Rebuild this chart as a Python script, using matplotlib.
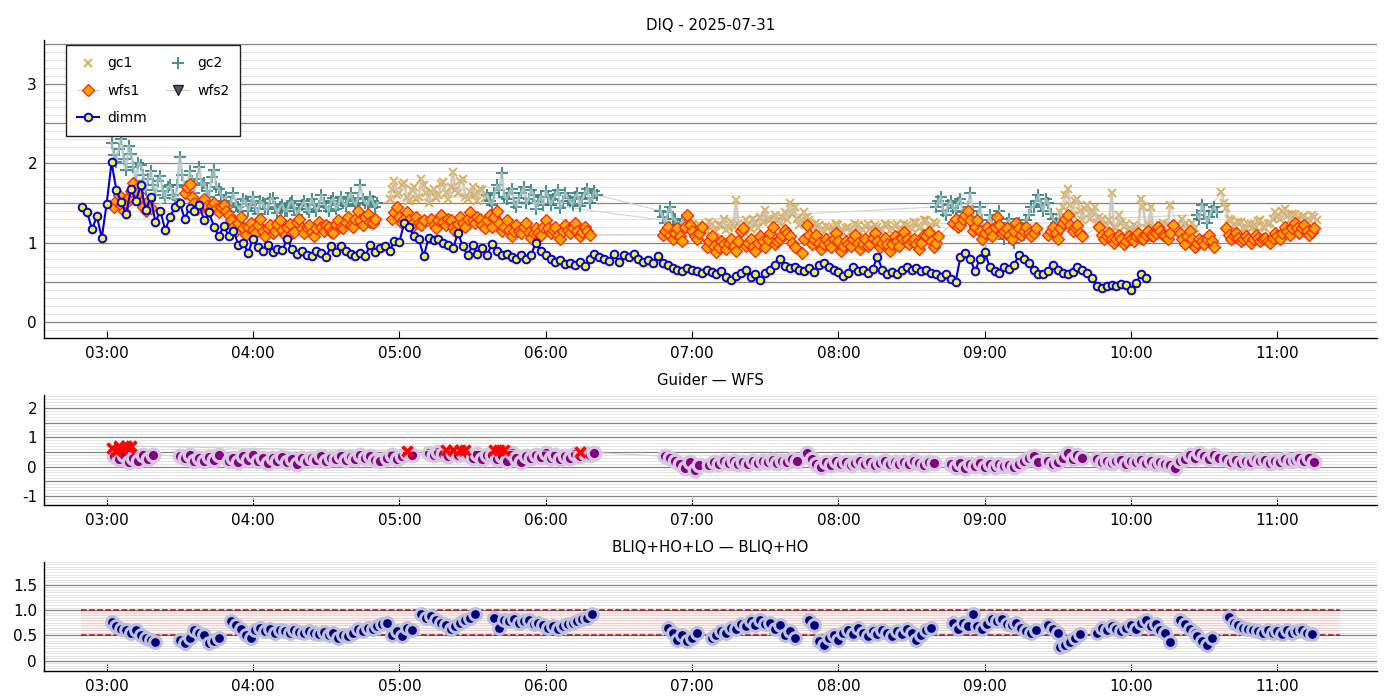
import numpy as np
import matplotlib.pyplot as plt
import matplotlib.dates as mdates
from matplotlib.ticker import FixedLocator, MultipleLocator

# all times are minutes after 00:00 on the night's date
night_date = np.datetime64('2025-07-31T00:00:00')
night_start, night_end = 169.3, 685.7

# DIMM seeing, one value every 2 minutes from 02:50
dimm_start = 170
dimm = [
    1.45, 1.38, 1.17, 1.33, 1.06, 1.49, 2.01, 1.66, 1.51, 1.36,
    1.68, 1.53, 1.72, 1.41, 1.57, 1.26, 1.40, 1.16, 1.32, 1.45,
    1.50, 1.30, 1.44, 1.40, 1.47, 1.28, 1.38, 1.20, 1.08, 1.21, 1.09,
    1.15, 0.97, 1.00, 0.87, 1.05, 0.95, 0.90, 0.97, 0.88, 0.92,
    0.91, 1.04, 0.92, 0.86, 0.89, 0.85, 0.83, 0.90, 0.87, 0.82,
    0.96, 0.88, 0.96, 0.89, 0.86, 0.83, 0.87, 0.83, 0.97, 0.88,
    0.93, 0.96, 0.90, 1.02, 1.01,
    1.25, 1.20, 1.08, 1.04, 0.83, 1.06, 1.03, 1.04, 1.00, 0.97,
    0.93, 1.12, 0.96, 0.84, 0.97, 0.86, 0.93, 0.85, 0.98, 0.90,
    0.84, 0.86, 0.82, 0.80, 0.84, 0.79, 0.85, 1.00, 0.90, 0.84,
    0.80, 0.76, 0.78, 0.73, 0.75, 0.72, 0.76, 0.71, 0.80, 0.86,
    0.82, 0.80, 0.77, 0.86, 0.76, 0.85, 0.82, 0.86, 0.79, 0.76,
    0.78, 0.75, 0.83, 0.74, 0.72, 0.68, 0.66, 0.64, 0.68, 0.66,
    0.65, 0.62, 0.66, 0.63, 0.60, 0.64, 0.57, 0.53, 0.58, 0.62,
    0.66, 0.57, 0.60, 0.53, 0.62, 0.66, 0.72, 0.80, 0.71, 0.68,
    0.70, 0.66, 0.64, 0.68, 0.63, 0.72, 0.75, 0.70, 0.66, 0.63,
    0.58, 0.62, 0.69, 0.64, 0.66, 0.62, 0.67, 0.82, 0.66, 0.61,
    0.63, 0.60, 0.66, 0.70, 0.66, 0.68, 0.64, 0.66, 0.62, 0.60,
    0.57, 0.60, 0.54, 0.50, 0.82, 0.87, 0.80, 0.64, 0.80, 0.88,
    0.70, 0.64, 0.62, 0.70, 0.67, 0.72, 0.85, 0.80, 0.74, 0.66,
    0.61, 0.60, 0.64, 0.72, 0.66, 0.62, 0.60, 0.63, 0.70, 0.66,
    0.62, 0.56, 0.45, 0.43, 0.45, 0.47, 0.46, 0.48, 0.47, 0.40,
    0.49, 0.60, 0.55,
]

# guide cameras and WFS: (start minute, values every minute)
gc1_segments = [
    (296, [1.55, 1.68, 1.78, 1.60, 1.62, 1.72, 1.75, 1.58, 1.52, 1.66, 1.70,
           1.55, 1.58, 1.80, 1.72, 1.62, 1.50, 1.64, 1.68, 1.56, 1.60, 1.74,
           1.76, 1.62, 1.55, 1.70, 1.89, 1.66, 1.62, 1.78, 1.80, 1.58, 1.55,
           1.64, 1.70, 1.60, 1.52, 1.68, 1.66, 1.56, 1.58]),
    (416, [1.25, 1.18, 1.15, 1.28, 1.22, 1.14, 1.12, 1.24, 1.20, 1.16,
           1.15, 1.26, 1.24, 1.13, 1.14, 1.22, 1.22, 1.30, 1.16, 1.19,
           1.26, 1.20, 1.54, 1.24, 1.20, 1.15, 1.28, 1.22, 1.17, 1.30,
           1.25, 1.18, 1.32, 1.26, 1.41, 1.30, 1.28, 1.22, 1.35, 1.27,
           1.25, 1.32, 1.38, 1.28, 1.50, 1.36, 1.45, 1.30, 1.22, 1.28,
           1.38, 1.32, 1.28, 1.20, 1.18, 1.25, 1.22, 1.16, 1.14, 1.21,
           1.20, 1.13, 1.16, 1.24, 1.22, 1.15, 1.12, 1.19, 1.20, 1.14,
           1.15, 1.23, 1.22, 1.14, 1.16, 1.21, 1.24, 1.17, 1.14, 1.22,
           1.20, 1.13, 1.16, 1.24, 1.22, 1.15, 1.18, 1.21, 1.24, 1.16,
           1.15, 1.23, 1.22, 1.14, 1.17, 1.26, 1.25, 1.18, 1.20, 1.28,
           1.28, 1.20, 1.18, 1.26, 1.24]),
    (570, [1.25, 1.38, 1.45, 1.60, 1.67, 1.48, 1.35, 1.52, 1.55, 1.40,
           1.28, 1.42, 1.48, 1.30, 1.38, 1.45, 1.25, 1.32, 1.30, 1.22]),
    (590, [1.22, 1.28, 1.62, 1.20, 1.18, 1.35, 1.25, 1.20, 1.24, 1.17,
           1.16, 1.22, 1.20, 1.18, 1.55, 1.45, 1.18, 1.24, 1.45, 1.20,
           1.20, 1.16, 1.22, 1.25, 1.18, 1.22, 1.47]),
    (619, [1.22, 1.18, 1.30, 1.24, 1.16, 1.20, 1.25, 1.18]),
    (637, [1.64, 1.50, 1.43, 1.30, 1.28, 1.22, 1.20, 1.26, 1.26, 1.18,
           1.18, 1.24, 1.24, 1.20, 1.20, 1.27, 1.28, 1.20, 1.18, 1.24,
           1.25, 1.30, 1.38, 1.32, 1.30, 1.40, 1.42, 1.34, 1.28, 1.36,
           1.36, 1.28, 1.24, 1.32, 1.34, 1.26, 1.28, 1.35, 1.32, 1.28]),
]
gc2_segments = [
    (182, [2.25, 2.10, 2.02, 2.18, 2.30, 2.05, 1.92, 2.22, 2.12, 1.95,
           1.78, 2.00, 1.98, 1.85, 1.66, 1.80, 1.90, 1.72, 1.60, 1.78,
           1.84, 1.65, 1.56, 1.70, 1.72, 1.60]),
    (208, [1.55, 1.72, 2.08, 1.85, 1.70, 1.62, 1.90, 1.78, 1.62, 1.80,
           1.95, 1.72, 1.75, 1.65, 1.58, 1.82, 1.92, 1.70, 1.68, 1.60,
           1.52, 1.58]),
    (230, [1.38, 1.50, 1.62, 1.48, 1.45, 1.40, 1.55, 1.52, 1.40, 1.47,
           1.58, 1.44, 1.36, 1.52, 1.50, 1.42, 1.42, 1.55, 1.56, 1.45,
           1.37, 1.45, 1.48, 1.40, 1.40, 1.50, 1.52, 1.44, 1.35, 1.42,
           1.47, 1.52, 1.42, 1.38, 1.55, 1.48, 1.40, 1.46, 1.60, 1.50,
           1.45, 1.40, 1.52, 1.56, 1.42, 1.48, 1.58, 1.50, 1.46, 1.55,
           1.62, 1.52, 1.48, 1.56, 1.72, 1.55, 1.50, 1.48, 1.58, 1.52,
           1.45, 1.50]),
    (336, [1.60, 1.52, 1.48, 1.62, 1.72, 1.66, 1.87, 1.58, 1.55, 1.62,
           1.68, 1.50, 1.45, 1.56, 1.62, 1.70, 1.50, 1.55, 1.66, 1.60,
           1.42, 1.52, 1.58, 1.48, 1.65, 1.58, 1.48, 1.55, 1.60, 1.66,
           1.44, 1.52, 1.63, 1.56, 1.52, 1.48, 1.58, 1.62, 1.46, 1.55,
           1.62, 1.68, 1.50, 1.56, 1.65, 1.60]),
    (407, [1.40, 1.32, 1.25, 1.38, 1.45, 1.30, 1.30, 1.22, 1.20, 1.28]),
    (520, [1.45, 1.52, 1.58, 1.40, 1.35, 1.48, 1.52, 1.44, 1.40, 1.50,
           1.55, 1.38, 1.30, 1.45, 1.62, 1.40, 1.20, 1.32, 1.45, 1.28,
           0.84, 1.20, 1.35, 1.22, 1.15, 1.30, 1.40, 1.18, 1.05, 1.25,
           1.30, 1.12, 1.00, 1.18, 1.25, 1.08, 1.10, 1.28, 1.35, 1.45,
           1.45, 1.52, 1.60, 1.48, 1.40, 1.55, 1.50, 1.36, 1.30, 1.25,
           1.22, 1.28]),
    (627, [1.35, 1.30, 1.48, 1.40, 1.25, 1.32, 1.40, 1.45, 1.38]),
]
wfs1_segments = [
    (183, [1.45, 1.52, 1.60, 1.48, 1.40, 1.50, 1.58, 1.65, 1.75, 1.68,
           1.62, 1.50, 1.45, 1.40, 1.52, 1.44]),
    (212, [1.62, 1.70, 1.74, 1.58, 1.50, 1.42, 1.45, 1.52, 1.55, 1.46,
           1.40, 1.48, 1.50, 1.42, 1.38, 1.45, 1.48, 1.40, 1.35]),
    (231, [1.28, 1.20, 1.15, 1.25, 1.32, 1.18, 1.10, 1.20, 1.25, 1.16,
           1.12, 1.22, 1.30, 1.15, 1.08, 1.18, 1.22, 1.12, 1.15, 1.24,
           1.28, 1.16, 1.10, 1.20, 1.24, 1.12, 1.14, 1.26, 1.30, 1.18,
           1.12, 1.20, 1.22, 1.14, 1.08, 1.18, 1.26, 1.20, 1.15, 1.22,
           1.20, 1.14, 1.12, 1.24, 1.28, 1.20, 1.18, 1.26, 1.32, 1.22,
           1.20, 1.30, 1.40, 1.28, 1.22, 1.32, 1.36, 1.26, 1.25, 1.30]),
    (297, [1.30, 1.38, 1.45, 1.32, 1.25, 1.30, 1.38, 1.28, 1.20, 1.26,
           1.32, 1.25, 1.22, 1.28]),
    (313, [1.30, 1.22, 1.18, 1.28, 1.35, 1.26, 1.22, 1.30, 1.28, 1.20,
           1.15, 1.24, 1.32, 1.25, 1.20, 1.30, 1.38, 1.28, 1.25, 1.32,
           1.30, 1.22, 1.18, 1.28, 1.35]),
    (338, [1.20, 1.32, 1.40, 1.25, 1.15, 1.20, 1.28, 1.16, 1.08, 1.15,
           1.22, 1.15, 1.12, 1.20, 1.25, 1.14, 1.06, 1.12, 1.18, 1.12,
           1.10, 1.20, 1.28, 1.18, 1.12, 1.16, 1.20, 1.10, 1.05, 1.15,
           1.22, 1.16, 1.12, 1.18, 1.25, 1.15, 1.08, 1.14, 1.20, 1.15,
           1.10]),
    (408, [1.10, 1.15, 1.20, 1.10, 1.05, 1.12, 1.18, 1.08, 1.02, 1.20,
           1.35, 1.22, 1.15, 1.08, 1.05, 1.12, 1.20]),
    (426, [0.95, 1.02, 1.08, 0.96, 0.88, 0.95, 1.02, 0.98, 0.92, 1.00,
           1.05, 0.96, 0.90, 1.02, 1.15, 1.19, 0.96, 1.00, 1.04, 0.95,
           0.90, 1.00, 1.08, 1.02, 0.94, 1.04, 1.12, 1.20, 0.98, 1.02,
           1.05, 1.10, 1.16, 1.12, 1.08, 1.00, 0.95]),
    (465, [0.87, 1.05, 1.22, 1.10, 0.98, 1.04, 1.10, 1.00, 0.92, 0.98,
           1.05, 1.00, 0.95, 1.04, 1.12, 1.02, 0.90, 0.96, 1.02, 0.98,
           0.96, 1.04, 1.10, 1.00, 0.92, 0.98, 1.04, 0.96, 0.98, 1.06,
           1.12, 1.02, 0.94, 1.00, 1.06, 0.98, 0.90, 0.98, 1.08, 1.02,
           0.96, 1.06, 1.14, 1.04, 0.98, 1.02, 1.04, 0.98, 0.92, 1.00,
           1.10, 1.08, 1.14, 1.02, 0.95, 1.00, 1.08]),
    (527, [1.25, 1.30, 1.20, 1.22, 1.30, 1.35, 1.40, 1.28, 1.15, 1.20,
           1.28, 1.15, 1.05, 1.12, 1.20, 1.15, 1.08, 1.20, 1.32, 1.22,
           1.12, 1.15, 1.18, 1.10, 1.05, 1.15, 1.25, 1.18, 1.10, 1.15,
           1.20, 1.12, 1.08, 1.12, 1.18]),
    (566, [1.10, 1.15, 1.20, 1.12, 1.05, 1.18, 1.25, 1.30, 1.35, 1.22,
           1.15, 1.20, 1.22, 1.12, 1.08]),
    (587, [1.20, 1.10, 1.05, 1.08, 1.12, 1.05, 1.00, 1.04, 1.10, 1.05,
           0.98, 1.02, 1.08, 1.05, 1.02, 1.08, 1.12, 1.06, 1.05, 1.10,
           1.15, 1.10, 1.08, 1.12, 1.20, 1.15, 1.10, 1.08, 1.05, 1.12,
           1.22]),
    (620, [1.12, 1.05, 0.98, 1.08, 1.15, 1.05, 0.95, 1.00, 1.05, 1.02,
           0.98, 1.05, 1.10, 1.02, 0.95]),
    (639, [1.18, 1.10, 1.05, 1.08, 1.12, 1.06, 1.02, 1.05, 1.08, 1.04,
           1.00, 1.05, 1.10, 1.06, 1.02, 1.04, 1.06, 1.02, 1.00, 1.06,
           1.12, 1.08, 1.05, 1.12, 1.20, 1.15, 1.10, 1.18, 1.25, 1.18,
           1.12, 1.18, 1.22, 1.15, 1.10, 1.14, 1.18]),
]

# Guider minus WFS: (start minute, values every 2 min)
guider_wfs_segments = [
    (183, [0.35, 0.25, 0.40, 0.15, 0.30, 0.20, 0.38, 0.25, 0.40]),
    (210, [0.35, 0.28, 0.40, 0.20, 0.30, 0.18, 0.32, 0.22, 0.38]),
    (230, [0.20, 0.30, 0.15, 0.35, 0.22, 0.40, 0.18, 0.30, 0.12, 0.28, 0.20,
           0.32, 0.15, 0.25, 0.10, 0.28, 0.18, 0.30, 0.22, 0.35, 0.20, 0.30,
           0.25, 0.35, 0.22, 0.32, 0.25, 0.38, 0.28, 0.35, 0.22, 0.18]),
    (295, [0.30, 0.40, 0.25, 0.35, 0.45, 0.38]),
    (312, [0.45, 0.40, 0.50, 0.42, 0.35, 0.48, 0.40, 0.45, 0.38, 0.30, 0.42,
           0.25, 0.40]),
    (338, [0.40, 0.25, 0.35, 0.20, 0.45, 0.30, 0.15, 0.35, 0.28, 0.40, 0.32,
           0.45, 0.30, 0.38, 0.25, 0.35, 0.30, 0.42, 0.35, 0.45, 0.40, 0.48]),
    (409, [0.35, 0.30, 0.20, 0.10, -0.05, 0.15, -0.10, 0.05]),
    (427, [0.05, 0.15, 0.10, 0.20, 0.12, 0.18, 0.08, 0.15, 0.10, 0.20, 0.12,
           0.18, 0.15, 0.22, 0.12, 0.20, 0.15, 0.25, 0.20]),
    (467, [0.45, 0.25, 0.10, 0.00, 0.15, 0.05, 0.18, 0.08, 0.15, 0.05, 0.12,
           0.20, 0.10, 0.15, 0.05, 0.12, 0.18, 0.10, 0.15, 0.08, 0.16, 0.10,
           0.18, 0.12, 0.05, 0.15, 0.12]),
    (526, [0.10, 0.00, 0.12, -0.05, 0.08, 0.02, 0.12, -0.02, 0.08, 0.00, 0.10,
           0.02, 0.06, 0.00, 0.10, 0.18, 0.30, 0.35, 0.15]),
    (566, [0.20, 0.10, 0.15]),
    (572, [0.30, 0.45, 0.25, 0.40, 0.30]),
    (586, [0.25, 0.15, 0.20, 0.12, 0.18, 0.22, 0.10, 0.20, 0.15, 0.22, 0.12,
           0.18, 0.10, 0.15, 0.08, 0.05, -0.05]),
    (620, [0.20, 0.25, 0.40, 0.30, 0.45, 0.35, 0.25, 0.38, 0.30]),
    (639, [0.25, 0.15, 0.22, 0.12, 0.20, 0.15, 0.25, 0.18, 0.22, 0.12, 0.20,
           0.15, 0.25, 0.18, 0.22, 0.30, 0.20, 0.28, 0.15]),
]
flag_minutes = [182, 184, 185, 186, 188, 189, 190, 303, 319, 322, 325, 327,
                339, 341, 343, 374]
flag_values = [0.62, 0.52, 0.70, 0.60, 0.72, 0.65, 0.70, 0.52, 0.58, 0.55,
               0.58, 0.55, 0.55, 0.58, 0.56, 0.50]

# BLIQ+HO+LO minus BLIQ+HO: (start minute, values every 2 min)
bliq_segments = [
    (182, [0.76, 0.68, 0.62, 0.60, 0.55, 0.60, 0.50, 0.45, 0.42, 0.38]),
    (210, [0.42, 0.35, 0.45, 0.60, 0.55, 0.50, 0.35, 0.40, 0.45]),
    (231, [0.78, 0.70, 0.62, 0.50, 0.45, 0.60, 0.65, 0.58, 0.62, 0.55, 0.60,
           0.58, 0.55, 0.60, 0.56, 0.54, 0.58, 0.55, 0.52, 0.56, 0.50, 0.55,
           0.45, 0.50, 0.48, 0.55, 0.62, 0.58, 0.65, 0.62, 0.68, 0.72, 0.75]),
    (297, [0.50, 0.58, 0.48, 0.65, 0.60]),
    (309, [0.92, 0.85, 0.88, 0.80, 0.75, 0.70, 0.62, 0.68, 0.75, 0.80, 0.85,
           0.92]),
    (339, [0.85, 0.65, 0.80, 0.78, 0.82, 0.75, 0.78, 0.80, 0.72, 0.75, 0.70,
           0.65, 0.68, 0.62, 0.68, 0.72, 0.75, 0.78, 0.82, 0.85, 0.92]),
    (410, [0.65, 0.55, 0.42, 0.50, 0.40, 0.45, 0.55]),
    (428, [0.45, 0.50, 0.58, 0.55, 0.65, 0.62, 0.72, 0.68, 0.78, 0.70, 0.80,
           0.72, 0.75, 0.62, 0.70, 0.50, 0.58, 0.45]),
    (468, [0.80, 0.70, 0.40, 0.32, 0.45, 0.50, 0.42, 0.55, 0.60, 0.52, 0.65,
           0.55, 0.48, 0.58, 0.52, 0.60, 0.55, 0.48, 0.58, 0.52, 0.62, 0.55,
           0.42, 0.50, 0.60, 0.65]),
    (527, [0.75, 0.62, 0.75, 0.68, 0.92, 0.68, 0.62, 0.72, 0.82, 0.78, 0.82,
           0.72, 0.70, 0.75, 0.65, 0.58, 0.55, 0.60]),
    (566, [0.71, 0.62, 0.55]),
    (571, [0.28, 0.32, 0.38, 0.45, 0.52]),
    (586, [0.55, 0.65, 0.60, 0.68, 0.62, 0.58, 0.65, 0.70, 0.62, 0.75, 0.80,
           0.68, 0.72, 0.60, 0.55, 0.38]),
    (620, [0.80, 0.72, 0.62, 0.55]),
    (627, [0.48, 0.40, 0.32, 0.45]),
    (640, [0.87, 0.75, 0.70, 0.65, 0.62, 0.60, 0.58, 0.55, 0.60, 0.55, 0.58,
           0.52, 0.60, 0.55, 0.58, 0.60, 0.55, 0.52]),
]
bliq_band = (0.5, 1.0)


def to_time(minutes):
    return night_date + (np.asarray(minutes, dtype=float) * 60).astype('timedelta64[s]')


def unpack(segments, step):
    mins, vals = [], []
    for start, v in segments:
        mins.extend(start + step * np.arange(len(v)))
        vals.extend(v)
    return to_time(mins), np.array(vals)


def cloud_trace(ax, segments, color):
    # dense guider samples: thin line through the night, heavier within each block
    t, v = unpack(segments, 1)
    ax.plot(t, v, '-', color='#d4d4d4', lw=0.8, zorder=1.9)
    for start, vals in segments:
        st, sv = unpack([(start, vals)], 1)
        ax.plot(st, sv, '-', color=color, lw=2.0, alpha=0.75, zorder=2.1)


def style_axis(ax, ylim, majors, labels, minor_step, title):
    ax.set_title(title, fontsize=10.7, pad=7)
    ax.set_ylim(*ylim)
    ax.yaxis.set_major_locator(FixedLocator(majors))
    ax.set_yticklabels(labels)
    ax.yaxis.set_minor_locator(MultipleLocator(minor_step))
    ax.grid(True, which='major', axis='y', color='#858585', lw=0.9)
    ax.grid(True, which='minor', axis='y', color='#e4e4e4', lw=0.7)
    ax.set_axisbelow(True)
    ax.tick_params(axis='y', which='both', length=0, labelsize=11, pad=5)
    ax.tick_params(axis='x', which='major', direction='in', length=5,
                   labelsize=11, pad=6)
    ax.tick_params(axis='x', which='minor', length=0)
    ax.xaxis.set_major_locator(mdates.HourLocator())
    ax.xaxis.set_major_formatter(mdates.DateFormatter('%H:%M'))
    ax.set_xlim(to_time(night_start - 15), to_time(night_end + 15))
    ax.spines[['top', 'right']].set_visible(False)
    for s in ('left', 'bottom'):
        ax.spines[s].set_color('black')
        ax.spines[s].set_linewidth(1.0)


fig = plt.figure(figsize=(14, 7), dpi=100)
ax1 = fig.add_axes([0.0314, 0.517, 0.952, 0.426])
ax2 = fig.add_axes([0.0314, 0.279, 0.952, 0.157])
ax3 = fig.add_axes([0.0314, 0.0414, 0.952, 0.156])

# --- DIQ panel
gc1_t, gc1_v = unpack(gc1_segments, 1)
gc2_t, gc2_v = unpack(gc2_segments, 1)
wfs1_t, wfs1_v = unpack(wfs1_segments, 1)
dimm_t = to_time(dimm_start + 2 * np.arange(len(dimm)))

h_gc1, = ax1.plot(gc1_t, gc1_v, ls='none', marker='x', ms=6, mew=1.5,
                  color='#dba540', alpha=0.85, zorder=2, label='gc1')
cloud_trace(ax1, gc1_segments, '#cbc3b4')
h_gc2, = ax1.plot(gc2_t, gc2_v, ls='none', marker='+', ms=8, mew=1.5,
                  color='#2e7f7f', alpha=0.85, zorder=2, label='gc2')
cloud_trace(ax1, gc2_segments, '#b9c9c9')
h_wfs1, = ax1.plot(wfs1_t, wfs1_v, '-', color='#cfcfcf', lw=0.8,
                   marker='D', ms=6.5, mfc='#ffa500', mec='#ff2200', mew=0.9,
                   zorder=3, label='wfs1')
h_wfs2, = ax1.plot([], [], '-', color='#cfcfcf', lw=0.8, marker='v', ms=7,
                   mfc='#5a5a6a', mec='#222222', label='wfs2')
h_dimm, = ax1.plot(dimm_t, dimm, '-', color='#0000dd', lw=1.5, marker='o',
                   ms=5.5, mfc='#f2f23c', mec='#0000dd', mew=1.4, zorder=4,
                   label='dimm')
style_axis(ax1, (-0.2, 3.55), np.arange(0, 3.51, 0.5),
           ['0', '', '1', '', '2', '', '3', ''], 0.1, 'DIQ - 2025-07-31')
leg = ax1.legend(handles=[h_gc1, h_wfs1, h_dimm, h_gc2, h_wfs2], ncol=2,
                 loc='upper left', bbox_to_anchor=(0.011, 1.005), fontsize=10,
                 frameon=True, fancybox=False, framealpha=1, borderpad=0.8,
                 labelspacing=0.95, handlelength=1.6, handletextpad=0.6,
                 columnspacing=1.4)
leg.get_frame().set_edgecolor('#222222')
leg.get_frame().set_linewidth(1.0)
leg.set_zorder(10)

# --- Guider - WFS panel
gw_t, gw_v = unpack(guider_wfs_segments, 2)
flag_t = to_time(flag_minutes)
ax2.plot(gw_t, gw_v, '-', color='#d0d0d0', lw=0.8, marker='o', ms=9,
         mfc='#800080', mec='#d9c6e1', mew=2.4, zorder=2)
ax2.plot(flag_t, flag_values, '-', color='#d0d0d0', lw=0.8, marker='x',
         ms=7, mew=2.5, mec='red', zorder=3)
style_axis(ax2, (-1.3, 2.45), np.arange(-1, 2.01, 0.5),
           ['-1', '', '0', '', '1', '', '2'], 0.1, 'Guider — WFS')

# --- BLIQ panel
bq_t, bq_v = unpack(bliq_segments, 2)
span = to_time([night_start, night_end])
ax3.fill_between(span, bliq_band[0], bliq_band[1], color='red', alpha=0.06,
                 lw=0, zorder=1)
ax3.hlines(bliq_band, span[0], span[1], colors='#aa1111', linestyles='--',
           lw=1.1, zorder=1.5)
ax3.plot(bq_t, bq_v, ls='none', marker='o', ms=8.5, mfc='#000080',
         mec='#bcc0da', mew=2.2, zorder=2)
style_axis(ax3, (-0.2, 1.95), [0, 0.5, 1.0, 1.5], ['0', '0.5', '1.0', '1.5'],
           0.05, 'BLIQ+HO+LO — BLIQ+HO')

fig.savefig('out.png', dpi=100)
